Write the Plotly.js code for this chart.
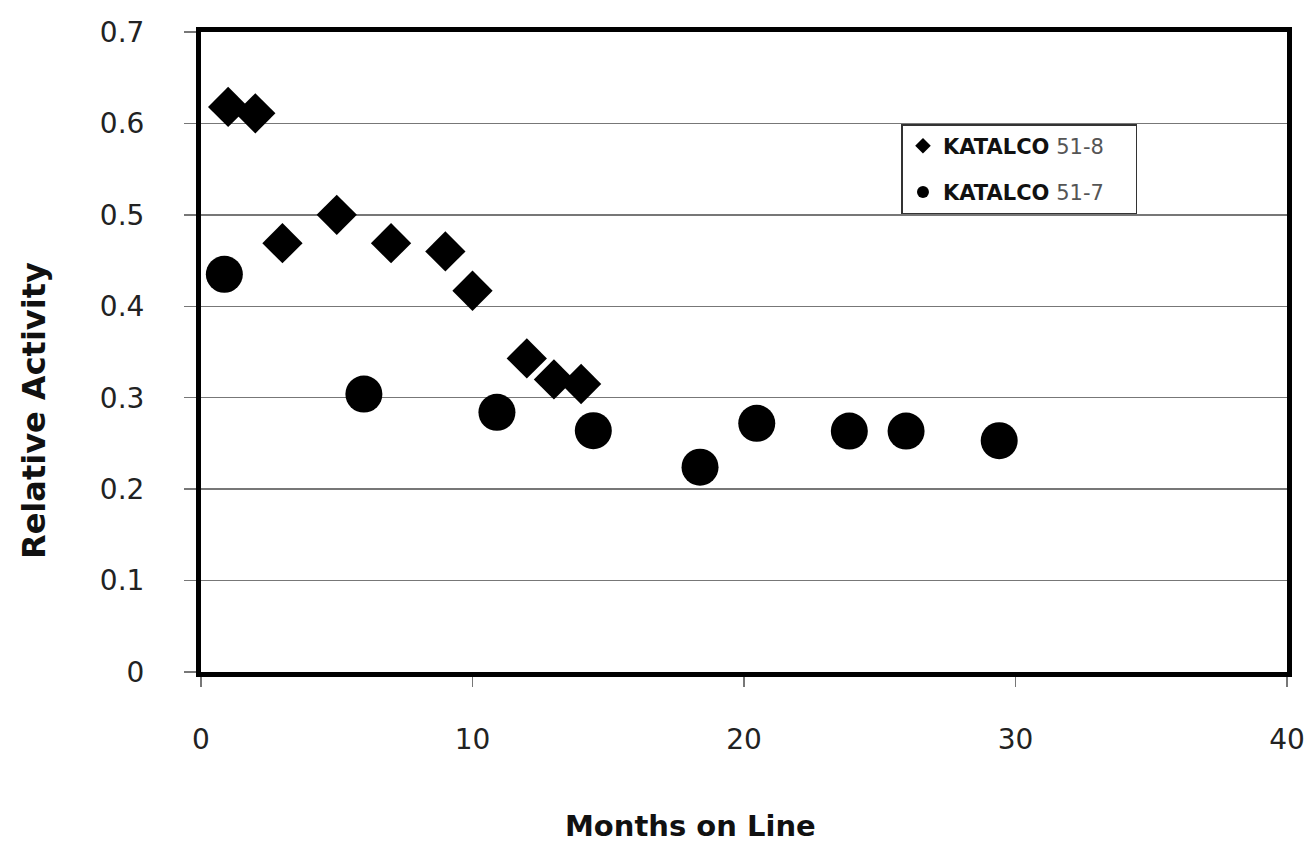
<!DOCTYPE html>
<html>
<head>
<meta charset="utf-8">
<script src="https://cdn.plot.ly/plotly-3.0.1.min.js"></script>
<style>html,body{margin:0;padding:0;background:#fff;}#chart{width:1307px;height:848px;}</style>
</head>
<body>
<div id="chart"></div>
<script>
// KATALCO 51-8 (diamonds)
const months518 = [1, 2, 3, 5, 7, 9, 10, 12, 13, 14];
const activity518 = [0.618, 0.611, 0.469, 0.50, 0.469, 0.46, 0.417, 0.343, 0.32, 0.315];
// KATALCO 51-7 (circles)
const months517 = [0.86, 6, 10.9, 14.45, 18.38, 20.47, 23.88, 25.97, 29.4];
const activity517 = [0.435, 0.304, 0.284, 0.264, 0.224, 0.272, 0.2635, 0.2635, 0.253];

const seriesNames = ['<b>KATALCO</b> <span style="color:#555">51-8</span>&nbsp;&nbsp;&nbsp;&nbsp;', '<b>KATALCO</b> <span style="color:#555">51-7</span>&nbsp;&nbsp;&nbsp;&nbsp;'];
const xTicks = [0, 10, 20, 30, 40];
const yTicks = [0, 0.1, 0.2, 0.3, 0.4, 0.5, 0.6, 0.7];
const yTickText = ['0', '0.1', '0.2', '0.3', '0.4', '0.5', '0.6', '0.7'];
const xTitle = '<b>Months on Line</b>';
const yTitle = '<b>Relative Activity</b>';

const traces = [
  {x: months518, y: activity518, type: 'scatter', mode: 'markers', name: seriesNames[0], legendgroup: 'a',
   marker: {symbol: 'diamond', size: 31, color: '#000'}},
  {x: months517, y: activity517, type: 'scatter', mode: 'markers', name: seriesNames[1], legendgroup: 'b',
   marker: {symbol: 'circle', size: 37, color: '#000'}}
];

const font = 'DejaVu Sans, Verdana, sans-serif';
const layout = {
  width: 1307, height: 848,
  paper_bgcolor: '#fff', plot_bgcolor: '#fff',
  margin: {l: 201, r: 20, t: 32, b: 176},
  showlegend: true,
  legend: {x: 0.645, y: 0.856, xanchor: 'left', yanchor: 'top', bgcolor: '#fff',
           bordercolor: '#333', borderwidth: 1.5, font: {family: font, size: 21, color: '#111'},
           itemsizing: 'constant', tracegroupgap: 16, traceorder: 'grouped', itemwidth: 30},
  xaxis: {range: [0, 40], tickvals: xTicks, ticktext: xTicks.map(String), showgrid: false, zeroline: false,
          showline: true, linecolor: '#000', linewidth: 5, mirror: true,
          ticks: 'outside', ticklen: 10, tickcolor: '#777', tickwidth: 1.5,
          ticklabelstandoff: 28, tickfont: {family: font, size: 28, color: '#222'}},
  yaxis: {range: [0, 0.7], tickvals: yTicks, ticktext: yTickText, showgrid: true, gridcolor: '#777', gridwidth: 1.5,
          zeroline: false, showline: true, linecolor: '#000', linewidth: 5, mirror: true,
          ticks: 'outside', ticklen: 12, tickcolor: '#777', tickwidth: 1.5,
          ticklabelstandoff: 34, tickfont: {family: font, size: 28, color: '#222'}},
  annotations: [
    {text: xTitle, xref: 'paper', yref: 'paper', x: (690 - 201) / 1086, y: -(826 - 672) / 640,
     xanchor: 'center', yanchor: 'middle', showarrow: false, font: {family: font, size: 29, color: '#111'}},
    {text: yTitle, xref: 'paper', yref: 'paper', x: -(201 - 34) / 1086, y: (672 - 411) / 640,
     xanchor: 'center', yanchor: 'middle', textangle: -90, showarrow: false, font: {family: font, size: 32, color: '#111'}}
  ]
};

Plotly.newPlot('chart', traces, layout, {displayModeBar: false, staticPlot: true});
</script>
</body>
</html>
